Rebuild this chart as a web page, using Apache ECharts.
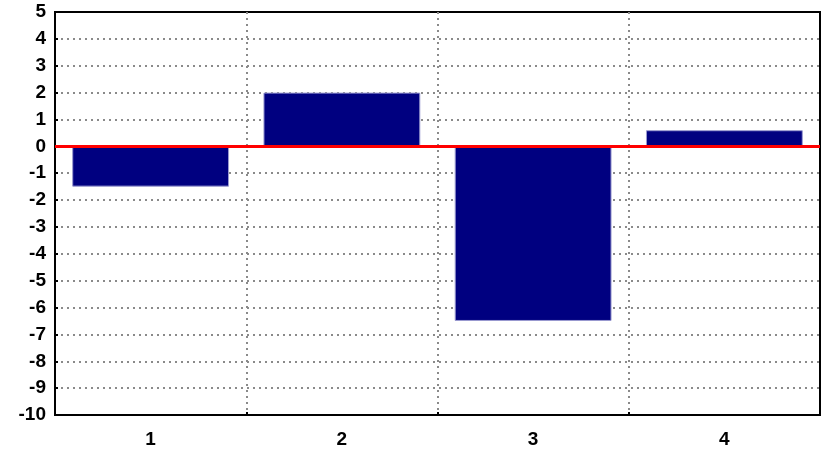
<!DOCTYPE html>
<html>
<head>
<meta charset="utf-8">
<script src="https://cdn.jsdelivr.net/npm/echarts@6/dist/echarts.min.js"></script>
<style>
  html, body { margin: 0; padding: 0; background: #fff; }
  #chart { width: 828px; height: 451px; }
</style>
</head>
<body>
<div id="chart"></div>
<script>
const categories = ['1', '2', '3', '4'];
const values = [-1.5, 2.0, -6.5, 0.6];
const yMin = -10;
const yMax = 5;

const chart = echarts.init(document.getElementById('chart'));

const labelFont = {
  fontFamily: 'Liberation Sans, Arial, sans-serif',
  fontWeight: 'bold',
  fontSize: 19,
  color: '#000'
};

const dotted = { color: '#8a8a8a', width: 2, type: [2, 4] };

const option = {
  animation: false,
  grid: {
    left: 55, right: 8, top: 12, bottom: 36,
    show: true,
    borderColor: '#000',
    borderWidth: 2,
    backgroundColor: 'transparent'
  },
  xAxis: {
    type: 'category',
    data: categories,
    boundaryGap: true,
    axisLine: { onZero: false, lineStyle: { color: '#000', width: 2 } },
    axisTick: { show: true, inside: true, length: 3, lineStyle: { color: '#000', width: 2 } },
    axisLabel: Object.assign({ margin: 15 }, labelFont),
    splitLine: { show: true, showMinLine: false, showMaxLine: false, lineStyle: dotted }
  },
  yAxis: {
    type: 'value',
    min: yMin,
    max: yMax,
    interval: 1,
    axisLine: { show: true, lineStyle: { color: '#000', width: 2 } },
    axisTick: { show: true, inside: true, length: 3, lineStyle: { color: '#000', width: 2 } },
    axisLabel: Object.assign({ margin: 9 }, labelFont),
    splitLine: { show: true, showMinLine: false, showMaxLine: false, lineStyle: dotted }
  },
  series: [
    {
      type: 'bar',
      data: values,
      barCategoryGap: '18%',
      itemStyle: { color: '#000080', borderColor: '#9a9ad0', borderWidth: 1 },
      markLine: {
        silent: true,
        symbol: 'none',
        label: { show: false },
        lineStyle: { color: '#ff0000', width: 3, type: 'solid' },
        data: [{ yAxis: 0 }]
      }
    }
  ]
};

chart.setOption(option);
</script>
</body>
</html>
